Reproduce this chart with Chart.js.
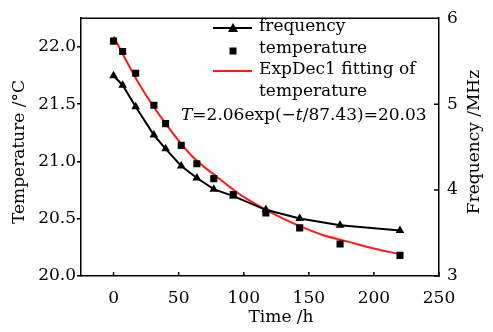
<!DOCTYPE html>
<html>
<head>
<meta charset="utf-8">
<script src="https://cdn.jsdelivr.net/npm/chart.js@4/dist/chart.umd.min.js"></script>
<style>
  body { margin: 0; background: #fff; }
  #wrap { width: 493px; height: 332px; position: relative; }
</style>
</head>
<body>
<div id="wrap"><canvas id="chart"></canvas></div>
<script>
// time in hours for each measurement
const timeHours = [0, 7, 17, 31, 40, 52, 64, 77, 92, 117, 143, 174, 220];
const temperature = [22.05, 21.96, 21.77, 21.49, 21.33, 21.14, 20.98, 20.85, 20.71, 20.55, 20.42, 20.28, 20.18];
const frequency = [5.33, 5.22, 4.97, 4.64, 4.48, 4.28, 4.14, 4.01, 3.93, 3.77, 3.67, 3.59, 3.53];

// ExpDec1 fit curve
const fitTime = [0, 20, 40, 60, 80, 100, 120, 140, 160, 180, 200, 220];
const fitTemp = [22.09, 21.67, 21.33, 21.05, 20.86, 20.69, 20.56, 20.45, 20.36, 20.30, 20.24, 20.19];

const xTicks = [0, 50, 100, 150, 200, 250];
const tempTicks = [20.0, 20.5, 21.0, 21.5, 22.0];
const freqTicks = [3, 4, 5, 6];

const FONT = '"DejaVu Serif", serif';

const toPoints = (xs, ys) => xs.map((x, i) => ({ x: x, y: ys[i] }));

const setTicks = (values) => (scale) => {
  scale.ticks = values.map((v) => ({ value: v }));
};

// inward ticks, top frame, axis titles, legend and equation
const extras = {
  id: 'extras',
  afterDraw(chart) {
    const ctx = chart.ctx;
    const area = chart.chartArea;
    const xs = chart.scales.x;
    const y1 = chart.scales.y1;
    ctx.save();
    ctx.strokeStyle = '#000';
    ctx.lineWidth = 1.5;
    ctx.beginPath();
    ctx.moveTo(area.left, area.top);
    ctx.lineTo(area.right, area.top);
    xTicks.forEach((v) => {
      const px = xs.getPixelForValue(v);
      ctx.moveTo(px, area.bottom);
      ctx.lineTo(px, area.bottom - 4);
    });
    freqTicks.forEach((v) => {
      const py = y1.getPixelForValue(v);
      ctx.moveTo(area.right, py);
      ctx.lineTo(area.right - 5, py);
    });
    ctx.stroke();

    ctx.fillStyle = '#000';
    ctx.font = '17px ' + FONT;
    ctx.textBaseline = 'middle';

    // axis titles
    ctx.textAlign = 'center';
    ctx.fillText('Time /h', 281, 318);
    ctx.save();
    ctx.translate(20, 152);
    ctx.rotate(-Math.PI / 2);
    ctx.fillText('Temperature /\u00B0C', 0, 0);
    ctx.restore();
    ctx.save();
    ctx.translate(475, 142);
    ctx.rotate(-Math.PI / 2);
    ctx.fillText('Frequency /MHz', 0, 0);
    ctx.restore();

    // legend
    ctx.textAlign = 'left';
    ctx.lineWidth = 2;
    ctx.beginPath();
    ctx.moveTo(213, 28);
    ctx.lineTo(252, 28);
    ctx.stroke();
    ctx.beginPath();
    ctx.moveTo(233, 23);
    ctx.lineTo(238, 32);
    ctx.lineTo(228, 32);
    ctx.closePath();
    ctx.fill();
    ctx.fillRect(229.5, 47.5, 7, 7);
    ctx.strokeStyle = '#ff1a1a';
    ctx.beginPath();
    ctx.moveTo(213, 71);
    ctx.lineTo(252, 71);
    ctx.stroke();
    ctx.fillText('frequency', 259, 27);
    ctx.fillText('temperature', 259, 49);
    ctx.fillText('ExpDec1 fitting of', 259, 70);
    ctx.fillText('temperature', 259, 92);

    // fit equation
    let x = 181;
    const parts = [
      ['T', true], ['=2.06exp(\u2212', false], ['t', true], ['/87.43)=20.03', false]
    ];
    parts.forEach(([txt, italic]) => {
      ctx.font = (italic ? 'italic ' : '') + '17px ' + FONT;
      ctx.fillText(txt, x, 116);
      x += ctx.measureText(txt).width;
    });
    ctx.restore();
  }
};

new Chart(document.getElementById('chart'), {
  type: 'line',
  data: {
    datasets: [
      {
        label: 'frequency',
        data: toPoints(timeHours, frequency),
        yAxisID: 'y1',
        borderColor: '#000',
        backgroundColor: '#000',
        borderWidth: 2,
        pointStyle: 'triangle',
        pointRadius: 5,
        pointBorderWidth: 0,
        tension: 0,
      },
      {
        label: 'temperature',
        data: toPoints(timeHours, temperature),
        yAxisID: 'y',
        showLine: false,
        backgroundColor: '#000',
        borderColor: '#000',
        pointStyle: 'rect',
        pointRadius: 5,
        pointBorderWidth: 0,
      },
      {
        label: 'ExpDec1 fitting of temperature',
        data: toPoints(fitTime, fitTemp),
        yAxisID: 'y',
        borderColor: '#ff1a1a',
        borderWidth: 2,
        pointRadius: 0,
        cubicInterpolationMode: 'monotone',
      },
    ],
  },
  options: {
    responsive: true,
    maintainAspectRatio: false,
    animation: false,
    layout: { padding: { top: 12, left: 0, right: 0, bottom: 0 } },
    plugins: { legend: { display: false }, tooltip: { enabled: false } },
    scales: {
      x: {
        type: 'linear',
        min: -25,
        max: 250,
        afterBuildTicks: setTicks(xTicks),
        afterFit: (s) => { s.height = 56; },
        grid: { drawOnChartArea: false, drawTicks: false },
        border: { color: '#000', width: 1.5 },
        ticks: { color: '#000', font: { family: FONT, size: 17 }, padding: 12 },
      },
      y: {
        position: 'left',
        min: 20,
        max: 22.25,
        afterBuildTicks: setTicks(tempTicks),
        afterFit: (s) => { s.width = 81; },
        grid: { drawOnChartArea: false, tickLength: 4, color: '#000', lineWidth: 1.5 },
        border: { color: '#000', width: 1.5 },
        ticks: {
          color: '#000',
          font: { family: FONT, size: 17 },
          padding: 1,
          callback: (v) => v.toFixed(1),
        },
      },
      y1: {
        position: 'right',
        min: 3,
        max: 6,
        afterBuildTicks: setTicks(freqTicks),
        afterFit: (s) => { s.width = 54; },
        grid: { drawOnChartArea: false, drawTicks: false },
        border: { color: '#000', width: 1.5 },
        ticks: { color: '#000', font: { family: FONT, size: 17 }, padding: 8 },
      },
    },
  },
  plugins: [extras],
});
</script>
</body>
</html>
